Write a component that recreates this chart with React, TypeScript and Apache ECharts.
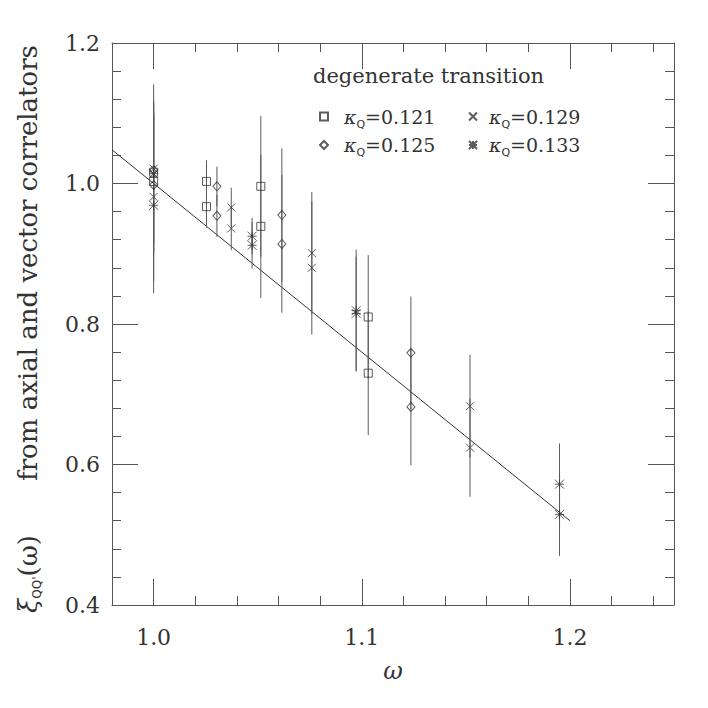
import React, { useEffect, useRef } from "react";
import * as echarts from "echarts";

// ---- axis ranges and ticks ----
const X_MIN = 0.98;
const X_MAX = 1.25;
const X_MAJOR = [1.0, 1.1, 1.2];
const X_MINOR = [1.02, 1.04, 1.06, 1.08, 1.12, 1.14, 1.16, 1.18, 1.22, 1.24];
const Y_MIN = 0.4;
const Y_MAX = 1.2;
const Y_STEP = 0.2;

// ---- data: kappa_Q = 0.121 (squares) ----
const K121_X = [1.0, 1.0, 1.0254, 1.0254, 1.0515, 1.0515, 1.1031, 1.1031];
const K121_Y = [1.016, 1.003, 1.003, 0.967, 0.996, 0.939, 0.81, 0.73];
const K121_E = [0.1, 0.1, 0.03, 0.03, 0.1, 0.102, 0.088, 0.088];

// ---- kappa_Q = 0.125 (diamonds) ----
const K125_X = [1.0, 1.0, 1.0304, 1.0304, 1.0616, 1.0616, 1.1236, 1.1236];
const K125_Y = [1.019, 0.998, 0.996, 0.954, 0.955, 0.914, 0.759, 0.682];
const K125_E = [0.1, 0.1, 0.028, 0.03, 0.095, 0.098, 0.08, 0.083];

// ---- kappa_Q = 0.129 (crosses) ----
const K129_X = [1.0, 1.0, 1.0373, 1.0373, 1.076, 1.076, 1.152, 1.152];
const K129_Y = [1.021, 0.981, 0.966, 0.936, 0.901, 0.88, 0.683, 0.624];
const K129_E = [0.12, 0.12, 0.028, 0.031, 0.087, 0.095, 0.073, 0.07];

// ---- kappa_Q = 0.133 (asterisks) ----
const K133_X = [1.0, 1.0, 1.0473, 1.0473, 1.0973, 1.0973, 1.195, 1.195];
const K133_Y = [1.014, 0.969, 0.925, 0.912, 0.819, 0.815, 0.572, 0.529];
const K133_E = [0.1, 0.125, 0.026, 0.033, 0.087, 0.081, 0.058, 0.059];

// ---- fitted line ----
const FIT_X = [0.98, 1.2];
const FIT_Y = [1.048, 0.52];

const KAPPAS = ["0.121", "0.125", "0.129", "0.133"];

const FONT = "DejaVu Serif";
const SANS = "DejaVu Sans";
const INK = "#333";
const AXIS = "#555";

const SYM_SQUARE = "rect";
const SYM_DIAMOND = "diamond";
const SYM_CROSS = "path://M0,0L10,10M10,0L0,10";
const SYM_STAR = "path://M0,0L10,10M10,0L0,10M5,0L5,10M0,5L10,5";

export default function App() {
  const ref = useRef<HTMLDivElement>(null);

  useEffect(() => {
    if (!ref.current) return;
    const chart = echarts.init(ref.current, null, { renderer: "svg" });

    const groups = [
      { name: KAPPAS[0], xs: K121_X, ys: K121_Y, es: K121_E, symbol: SYM_SQUARE, size: 8 },
      { name: KAPPAS[1], xs: K125_X, ys: K125_Y, es: K125_E, symbol: SYM_DIAMOND, size: [8, 9] },
      { name: KAPPAS[2], xs: K129_X, ys: K129_Y, es: K129_E, symbol: SYM_CROSS, size: 8 },
      { name: KAPPAS[3], xs: K133_X, ys: K133_Y, es: K133_E, symbol: SYM_STAR, size: 9 },
    ];

    const errSeries = groups.map((g) => ({
      type: "custom",
      name: "err" + g.name,
      xAxisIndex: 0,
      yAxisIndex: 0,
      z: 2,
      silent: true,
      data: g.xs.map((x, i) => [x, g.ys[i], g.es[i]]),
      encode: { x: 0, y: 1 },
      renderItem: (params: any, api: any) => {
        const x = api.value(0);
        const y = api.value(1);
        const e = api.value(2);
        const p1 = api.coord([x, y - e]);
        const p2 = api.coord([x, y + e]);
        return {
          type: "line",
          shape: { x1: p1[0], y1: p1[1], x2: p2[0], y2: p2[1] },
          style: { stroke: "#5a5a5a", lineWidth: 1 },
        };
      },
    }));

    const ptSeries = groups.map((g) => ({
      type: "scatter",
      name: g.name,
      xAxisIndex: 0,
      yAxisIndex: 0,
      z: 3,
      symbol: g.symbol,
      symbolSize: g.size,
      itemStyle: { color: "rgba(255,255,255,0)", borderColor: INK, borderWidth: 1 },
      data: g.xs.map((x, i) => [x, g.ys[i]]),
    }));

    const fitSeries = {
      type: "line",
      name: "fit",
      xAxisIndex: 0,
      yAxisIndex: 0,
      z: 1,
      showSymbol: false,
      symbol: "none",
      lineStyle: { color: INK, width: 1 },
      data: FIT_X.map((x, i) => [x, FIT_Y[i]]),
    };

    const legendRich = {
      k: { fontFamily: FONT, fontStyle: "italic", fontSize: 19, lineHeight: 26, color: INK },
      q: { fontFamily: SANS, fontSize: 11, lineHeight: 12, verticalAlign: "bottom", color: INK },
      v: { fontFamily: FONT, fontSize: 19, lineHeight: 26, color: INK },
    };
    const legendFmt = (name: string) => `{k|κ}{q|Q}{v|=${name}}`;

    const baseX = {
      type: "value",
      min: X_MIN,
      max: X_MAX,
      gridIndex: 0,
      splitLine: { show: false },
    };

    const option: any = {
      animation: false,
      backgroundColor: "#fff",
      grid: { left: 112, top: 43, width: 562, height: 562, show: false },
      xAxis: [
        {
          ...baseX,
          position: "bottom",
          axisLine: { show: true, lineStyle: { color: AXIS, width: 1 } },
          axisTick: { show: true, inside: true, length: 26, customValues: X_MAJOR, lineStyle: { color: AXIS } },
          axisLabel: {
            show: true,
            customValues: X_MAJOR,
            formatter: (v: number) => v.toFixed(1),
            margin: 21,
            fontFamily: FONT,
            fontSize: 22,
            color: INK,
          },
          name: "ω",
          nameLocation: "middle",
          nameGap: 54,
          nameTextStyle: { fontFamily: FONT, fontStyle: "italic", fontSize: 24, color: INK },
        },
        {
          ...baseX,
          position: "bottom",
          axisLine: { show: false },
          axisTick: { show: true, inside: true, length: 9, customValues: X_MINOR, lineStyle: { color: AXIS } },
          axisLabel: { show: false },
        },
        {
          ...baseX,
          position: "top",
          axisLine: { show: true, lineStyle: { color: AXIS, width: 1 } },
          axisTick: { show: true, inside: true, length: 26, customValues: X_MAJOR, lineStyle: { color: AXIS } },
          axisLabel: { show: false },
        },
        {
          ...baseX,
          position: "top",
          axisLine: { show: false },
          axisTick: { show: true, inside: true, length: 9, customValues: X_MINOR, lineStyle: { color: AXIS } },
          axisLabel: { show: false },
        },
      ],
      yAxis: [
        {
          type: "value",
          position: "left",
          min: Y_MIN,
          max: Y_MAX,
          interval: Y_STEP,
          splitLine: { show: false },
          axisLine: { show: true, lineStyle: { color: AXIS, width: 1 } },
          axisTick: { show: true, inside: true, length: 26, lineStyle: { color: AXIS } },
          minorTick: { show: true, splitNumber: 5, length: 9, lineStyle: { color: AXIS } },
          minorSplitLine: { show: false },
          axisLabel: {
            formatter: (v: number) => v.toFixed(1),
            margin: 12,
            fontFamily: FONT,
            fontSize: 22,
            color: INK,
          },
        },
        {
          type: "value",
          position: "right",
          min: Y_MIN,
          max: Y_MAX,
          interval: Y_STEP,
          splitLine: { show: false },
          axisLine: { show: true, lineStyle: { color: AXIS, width: 1 } },
          axisTick: { show: true, inside: true, length: 26, lineStyle: { color: AXIS } },
          minorTick: { show: true, splitNumber: 5, length: 9, lineStyle: { color: AXIS } },
          minorSplitLine: { show: false },
          axisLabel: { show: false },
        },
      ],
      legend: [
        {
          orient: "vertical",
          left: 314,
          top: 102,
          itemWidth: 8,
          itemHeight: 8,
          itemGap: 6,
          data: [KAPPAS[0], KAPPAS[1]],
          formatter: legendFmt,
          textStyle: { padding: [0, 0, 0, 11], rich: legendRich },
          selectedMode: false,
        },
        {
          orient: "vertical",
          left: 463,
          top: 102,
          itemWidth: 8,
          itemHeight: 8,
          itemGap: 6,
          data: [KAPPAS[2], KAPPAS[3]],
          formatter: legendFmt,
          textStyle: { padding: [0, 0, 0, 7], rich: legendRich },
          selectedMode: false,
        },
      ],
      graphic: [
        {
          type: "text",
          left: 313,
          top: 65,
          style: { text: "degenerate transition", fontFamily: FONT, fontSize: 21, fill: INK },
        },
        {
          type: "text",
          x: 28,
          y: 263,
          rotation: Math.PI / 2,
          style: {
            text: "from axial and vector correlators",
            fontFamily: FONT,
            fontSize: 26,
            fill: INK,
            align: "center",
            verticalAlign: "middle",
          },
        },
        {
          type: "text",
          x: 28,
          y: 574,
          rotation: Math.PI / 2,
          style: {
            text: "{xi|ξ}{s|QQ'}{n|(ω)}",
            align: "center",
            verticalAlign: "middle",
            rich: {
              xi: { fontFamily: FONT, fontStyle: "italic", fontSize: 26, lineHeight: 30, fill: INK },
              s: { fontFamily: SANS, fontSize: 12, lineHeight: 13, verticalAlign: "bottom", fill: INK },
              n: { fontFamily: FONT, fontSize: 26, lineHeight: 30, fill: INK },
            },
          },
        },
      ],
      series: [fitSeries, ...errSeries, ...ptSeries],
    };

    chart.setOption(option);
    return () => chart.dispose();
  }, []);

  return (
    <div
      ref={ref}
      style={{ position: "fixed", left: 0, top: 0, width: 708, height: 708, background: "#fff" }}
    />
  );
}
